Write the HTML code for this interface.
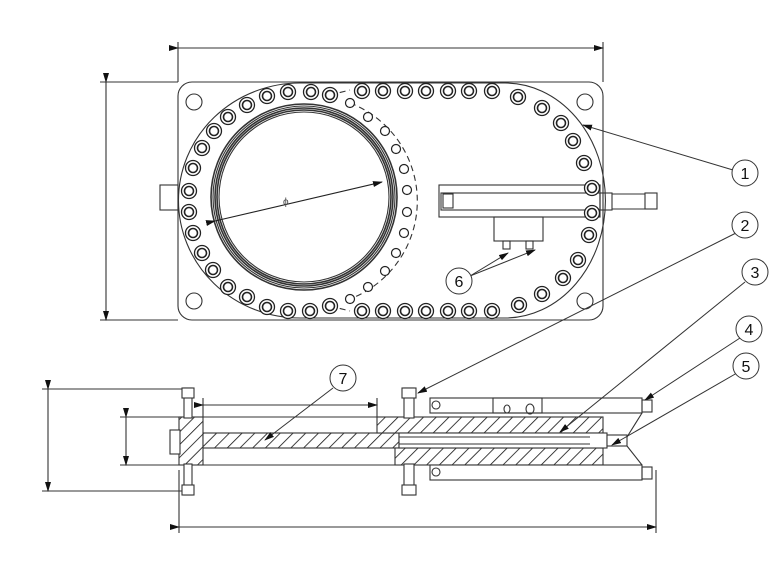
<!DOCTYPE html>
<html><head><meta charset="utf-8"><style>
html,body{margin:0;padding:0;background:#fff;}
svg{display:block;font-family:"Liberation Sans",sans-serif;}
</style></head><body>
<svg width="784" height="569" viewBox="0 0 784 569" xmlns="http://www.w3.org/2000/svg">
<defs>
<pattern id="h" width="9" height="9" patternUnits="userSpaceOnUse" patternTransform="rotate(45)">
<rect width="9" height="9" fill="#fff"/><line x1="0" y1="0" x2="0" y2="9" stroke="#111" stroke-width="1.6"/>
</pattern>
<marker id="a" markerWidth="10" markerHeight="6" refX="9" refY="3" orient="auto" markerUnits="userSpaceOnUse"><path d="M0,0 L10,3 L0,6z" fill="#111"/></marker>
<g id="b"><circle r="7.5" fill="#fff" stroke="#222" stroke-width="1.3"/><circle r="4.5" fill="none" stroke="#222" stroke-width="1.6"/></g>
<g id="s"><circle r="4.5" fill="#fff" stroke="#222" stroke-width="1.2"/></g>
</defs>
<g stroke="#333" stroke-width="1.1" fill="none">
<line x1="178" y1="42" x2="178" y2="82"/><line x1="603" y1="42" x2="603" y2="82"/>
<line x1="178" y1="48" x2="603" y2="48" marker-start="url(#a)" marker-end="url(#a)"/>
<line x1="100" y1="82" x2="178" y2="82"/><line x1="100" y1="320" x2="178" y2="320"/>
<line x1="106" y1="82" x2="106" y2="320" marker-start="url(#a)" marker-end="url(#a)"/>
<rect x="178" y="82" width="425" height="238" rx="14"/>
<circle cx="194" cy="102" r="8"/><circle cx="585" cy="102" r="8"/><circle cx="194" cy="301" r="8"/><circle cx="585" cy="301" r="8"/>
<rect x="160" y="185" width="18" height="25"/>
<path d="M300,83 L505,83 A100,117 0 0 1 505,318 L300,318 A121,117 0 0 1 300,83"/>
<path d="M350,103 A105,105 0 0 1 350,299" stroke-dasharray="6,4"/>
<path d="M330,95 L350,90 M330,306 L350,311" stroke-dasharray="6,4"/>
<circle cx="304" cy="197" r="93" stroke-width="1.6"/><circle cx="304" cy="197" r="91"/><circle cx="304" cy="197" r="89" stroke-width="1.6"/><circle cx="304" cy="197" r="87" stroke-width="1.6"/><circle cx="304" cy="197" r="85"/>
<line x1="215" y1="221" x2="382" y2="182" stroke="#222" marker-start="url(#a)" marker-end="url(#a)"/>
<rect x="439" y="185" width="161" height="32" fill="#fff"/>
<rect x="441" y="193" width="159" height="17"/>
<rect x="600" y="193" width="12" height="17"/>
<line x1="612" y1="194" x2="645" y2="194"/><line x1="612" y1="209" x2="645" y2="209"/>
<rect x="645" y="193" width="12" height="16"/>
<rect x="443" y="194" width="10" height="14"/>
<rect x="494" y="217" width="49" height="24"/>
<rect x="503" y="241" width="7" height="8"/><rect x="526" y="241" width="7" height="8"/>
</g>
<g>
<use href="#b" x="362" y="91"/><use href="#b" x="383" y="91"/><use href="#b" x="405" y="91"/><use href="#b" x="426" y="91"/><use href="#b" x="448" y="91"/><use href="#b" x="469" y="91"/><use href="#b" x="492" y="91"/>
<use href="#b" x="362" y="311"/><use href="#b" x="383" y="311"/><use href="#b" x="405" y="311"/><use href="#b" x="426" y="311"/><use href="#b" x="448" y="311"/><use href="#b" x="469" y="311"/><use href="#b" x="492" y="311"/>
<use href="#b" x="518" y="97"/><use href="#b" x="542" y="108"/><use href="#b" x="561" y="123"/><use href="#b" x="573" y="141"/><use href="#b" x="584" y="163"/><use href="#b" x="592" y="188"/><use href="#b" x="592" y="213"/><use href="#b" x="589" y="235"/><use href="#b" x="578" y="260"/><use href="#b" x="563" y="278"/><use href="#b" x="542" y="294"/><use href="#b" x="519" y="305"/>
<use href="#b" x="330" y="95"/><use href="#b" x="311" y="92"/><use href="#b" x="288" y="92"/><use href="#b" x="267" y="96"/><use href="#b" x="247" y="105"/><use href="#b" x="228" y="117"/><use href="#b" x="214" y="131"/><use href="#b" x="202" y="148"/><use href="#b" x="193" y="168"/><use href="#b" x="189" y="191"/><use href="#b" x="189" y="212"/><use href="#b" x="193" y="233"/><use href="#b" x="202" y="253"/><use href="#b" x="213" y="270"/><use href="#b" x="228" y="287"/><use href="#b" x="247" y="297"/><use href="#b" x="267" y="307"/><use href="#b" x="288" y="311"/><use href="#b" x="310" y="311"/><use href="#b" x="330" y="306"/>
<use href="#s" x="350" y="103"/><use href="#s" x="368" y="117"/><use href="#s" x="385" y="131"/><use href="#s" x="396" y="149"/><use href="#s" x="404" y="169"/><use href="#s" x="407" y="190"/><use href="#s" x="407" y="212"/><use href="#s" x="404" y="233"/><use href="#s" x="396" y="253"/><use href="#s" x="385" y="271"/><use href="#s" x="368" y="287"/><use href="#s" x="350" y="299"/>
</g>
<text x="283" y="205" font-size="10" fill="#444">ϕ</text>
<g stroke="#333" stroke-width="1.1" fill="none">
<line x1="42" y1="389" x2="182" y2="389"/><line x1="42" y1="491" x2="182" y2="491"/>
<line x1="48" y1="389" x2="48" y2="491" marker-start="url(#a)" marker-end="url(#a)"/>
<line x1="120" y1="417" x2="180" y2="417"/><line x1="120" y1="465" x2="180" y2="465"/>
<line x1="126" y1="417" x2="126" y2="465" marker-start="url(#a)" marker-end="url(#a)"/>
<line x1="179" y1="470" x2="179" y2="533"/><line x1="656" y1="470" x2="656" y2="533"/>
<line x1="179" y1="527" x2="656" y2="527" marker-start="url(#a)" marker-end="url(#a)"/>
<line x1="203" y1="398" x2="203" y2="417"/><line x1="377" y1="398" x2="377" y2="417"/>
<line x1="203" y1="405" x2="377" y2="405" marker-start="url(#a)" marker-end="url(#a)"/>
<line x1="180" y1="417" x2="603" y2="417"/><line x1="180" y1="465" x2="603" y2="465"/>
<rect x="179" y="417" width="24" height="48" fill="url(#h)"/>
<rect x="170" y="430" width="10" height="24" fill="#fff"/>
<rect x="203" y="433" width="196" height="15" fill="url(#h)"/>
<rect x="377" y="417" width="226" height="16" fill="url(#h)"/>
<rect x="395" y="448" width="208" height="17" fill="url(#h)"/>
<rect x="399" y="433" width="208" height="15" fill="#fff"/>
<line x1="399" y1="437" x2="590" y2="437"/><line x1="399" y1="444" x2="590" y2="444"/>
<rect x="607" y="435" width="20" height="11" fill="#fff"/>
<rect x="184" y="388" width="8" height="30" fill="#fff"/><rect x="184" y="464" width="8" height="31" fill="#fff"/>
<rect x="182" y="388" width="12" height="10" fill="#fff"/><rect x="182" y="485" width="12" height="10" fill="#fff"/>
<rect x="404" y="388" width="10" height="30" fill="#fff"/><rect x="404" y="464" width="10" height="31" fill="#fff"/>
<rect x="402" y="388" width="14" height="10" fill="#fff"/><rect x="402" y="485" width="14" height="10" fill="#fff"/>
<rect x="430" y="398" width="212" height="15" fill="#fff"/>
<rect x="430" y="465" width="212" height="15" fill="#fff"/>
<rect x="493" y="398" width="49" height="15"/>
<circle cx="436" cy="405" r="4"/><circle cx="436" cy="472" r="4"/>
<ellipse cx="507" cy="409" rx="3" ry="4"/><ellipse cx="530" cy="409" rx="4" ry="5"/>
<rect x="642" y="400" width="10" height="12"/><rect x="642" y="467" width="10" height="12"/>
<path d="M642,413 L627,437 M642,465 L627,446"/>
</g>
<g stroke="#333" stroke-width="1" fill="#fff">
<line x1="733" y1="170" x2="583" y2="125" marker-end="url(#a)"/>
<line x1="736" y1="233" x2="418" y2="393" marker-end="url(#a)"/>
<line x1="745" y1="282" x2="560" y2="432" marker-end="url(#a)"/>
<line x1="740" y1="338" x2="645" y2="400" marker-end="url(#a)"/>
<line x1="737" y1="373" x2="612" y2="445" marker-end="url(#a)"/>
<line x1="470" y1="276" x2="508" y2="253" marker-end="url(#a)"/>
<line x1="470" y1="276" x2="535" y2="250" marker-end="url(#a)"/>
<line x1="333" y1="388" x2="265" y2="440" marker-end="url(#a)"/>
<circle cx="745" cy="173" r="13"/><circle cx="745" cy="225" r="13"/><circle cx="755" cy="272" r="13"/><circle cx="749" cy="329" r="13"/><circle cx="746" cy="366" r="13"/><circle cx="459" cy="281" r="13"/><circle cx="343" cy="378" r="13"/>
</g>
<g font-size="16" fill="#111" text-anchor="middle">
<text x="745" y="179">1</text><text x="745" y="231">2</text><text x="755" y="278">3</text><text x="749" y="335">4</text><text x="746" y="372">5</text><text x="459" y="287">6</text><text x="343" y="384">7</text>
</g>
</svg>
</body></html>
